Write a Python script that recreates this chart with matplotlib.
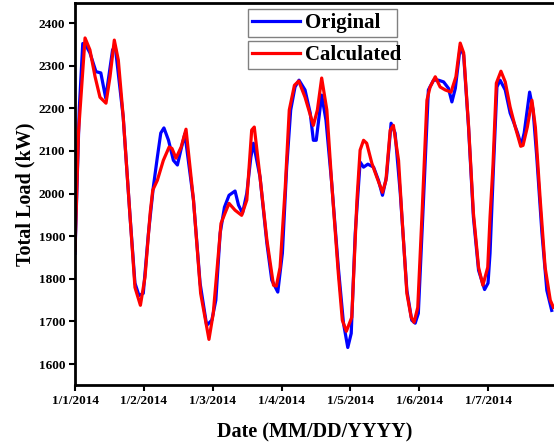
import matplotlib
matplotlib.use('Agg')
import matplotlib.pyplot as plt

# Hours since 1/1/2014 00:00 and load values (kW)
orig_hours = [0, 1.5, 2.7, 4.0, 5.2, 7.3, 9.0, 10.7, 13.1, 14.0, 16.8, 19.2, 20.9, 22.3, 23.8,
              25.6, 27.3, 28.7, 29.9, 31.0, 32.6, 34.3, 35.7, 36.9, 38.3, 41.3, 43.6, 45.9, 47.7,
              49.1, 50.6, 52.1, 53.7, 55.8, 57.0, 58.4, 59.9, 61.3, 62.2, 64.5, 66.9, 68.6, 70.7,
              72.3, 73.8, 75.2, 76.7, 78.1, 80.2, 82.0, 83.1, 84.1, 86.0, 87.5, 89.5, 91.8, 93.6,
              95.1, 96.3, 97.7, 99.4, 100.6, 102.1, 104.1, 105.8, 107.2, 108.6, 110.2, 111.6,
              113.4, 115.7, 117.4, 118.6, 119.7, 121.5, 123.2, 125.0, 126.7, 128.5, 130.2, 131.4,
              132.6, 134.3, 135.5, 137.2, 138.9, 140.7, 142.8, 144.0, 144.7, 145.9, 147.1, 148.2,
              150.0, 151.7, 152.9, 154.3, 155.6, 156.6, 158.5, 159.7, 161.0, 162.8, 164.5, 166.2]
orig_load = [1860, 2200, 2352, 2345, 2330, 2286, 2283, 2224, 2337, 2346, 2180, 1945, 1790, 1761, 1766,
             1907, 2015, 2085, 2142, 2154, 2125, 2078, 2067, 2102, 2140, 1985, 1790, 1691, 1703,
             1750, 1907, 1968, 1996, 2006, 1973, 1954, 2001, 2085, 2118, 2039, 1883, 1797, 1769,
             1860, 2062, 2196, 2250, 2266, 2243, 2189, 2125, 2125, 2231, 2172, 2024, 1827, 1696,
             1639, 1672, 1907, 2074, 2062, 2069, 2062, 2031, 1996, 2039, 2165, 2142,
             2001, 1773, 1703, 1696, 1719, 1985, 2243, 2266, 2266, 2262, 2247, 2215,
             2247, 2344, 2325, 2156, 1945, 1820, 1775, 1790, 1860, 2062, 2250, 2266,
             2243, 2189, 2168, 2142, 2113, 2142, 2238, 2196, 2085, 1907, 1773, 1726]

calc_hours = [0, 1.2, 3.5, 5.2, 7.0, 8.7, 10.8, 12.2, 13.7, 15.1, 16.8, 19.2, 20.9, 22.8, 24.4,
              26.2, 27.1, 28.7, 30.8, 32.8, 33.8, 35.2, 37.0, 38.7, 41.3, 43.8, 46.7, 48.2, 50.9,
              52.3, 53.7, 55.8, 58.1, 59.9, 61.6, 62.5, 64.5, 66.9, 69.2, 70.2, 71.5, 73.3, 74.7,
              76.5, 78.0, 80.2, 83.1, 84.5, 86.0, 87.8, 89.5, 91.8, 93.2, 94.6, 96.5, 98.3, 99.4,
              100.6, 101.7, 103.5, 105.2, 107.2, 108.4, 109.9, 111.0, 112.8, 114.0, 115.7, 117.2,
              118.2, 119.5, 121.1, 122.7, 123.8, 125.6, 127.3, 129.1, 131.1, 132.8, 134.3, 135.5,
              137.2, 138.9, 140.7, 142.2, 143.9, 144.7, 145.7, 146.9, 148.5, 150.0, 151.7, 153.5,
              155.4, 156.2, 157.7, 159.3, 160.5, 162.2, 163.9, 165.7, 166.8]
calc_load = [1867, 2142, 2365, 2337, 2274, 2226, 2212, 2274, 2360, 2313, 2180, 1945, 1780, 1738, 1804,
             1954, 2008, 2031, 2078, 2109, 2106, 2083, 2109, 2151, 1985, 1766, 1658, 1719, 1930,
             1954, 1977, 1961, 1949, 1985, 2149, 2156, 2039, 1891, 1785, 1783, 1827, 2015, 2196,
             2254, 2264, 2226, 2160, 2196, 2271, 2196, 2024, 1813, 1703, 1677, 1710, 1985, 2102,
             2125, 2118, 2071, 2039, 2003, 2031, 2149, 2160, 2078, 1945, 1766, 1710,
             1698, 1733, 1968, 2219, 2250, 2274, 2250, 2243, 2238, 2274, 2353, 2330,
             2160, 1954, 1827, 1785, 1827, 1945, 2062, 2259, 2287, 2262, 2203, 2156,
             2111, 2113, 2156, 2219, 2156, 1985, 1827, 1750, 1733]

tick_hours = [0, 24, 48, 72, 96, 120, 144]
tick_labels = ['1/1/2014', '1/2/2014', '1/3/2014', '1/4/2014', '1/5/2014', '1/6/2014', '1/7/2014']
y_ticks = [1600, 1700, 1800, 1900, 2000, 2100, 2200, 2300, 2400]

plt.rcParams['font.family'] = ['Liberation Serif', 'DejaVu Serif']
plt.rcParams['font.weight'] = 'bold'

fig = plt.figure(figsize=(5.54, 4.48), dpi=100)
ax = fig.add_axes([0.1354, 0.1406, 0.8646, 0.8527])

line_o, = ax.plot(orig_hours, orig_load, color='#0000ff', lw=2.3, label='Original')
line_c, = ax.plot(calc_hours, calc_load, color='#ff0000', lw=2.3, label='Calculated')

ax.set_xlim(0, 167)
ax.set_ylim(1551, 2447)
ax.set_xticks(tick_hours)
ax.set_xticklabels(tick_labels)
ax.set_yticks(y_ticks)
ax.tick_params(axis='both', direction='out', length=4, width=1.5, labelsize=9.5, pad=3)
for lbl in ax.get_xticklabels() + ax.get_yticklabels():
    lbl.set_fontweight('bold')

for side in ['left', 'bottom', 'top']:
    ax.spines[side].set_linewidth(2)
ax.spines['right'].set_visible(False)

ax.set_xlabel('Date (MM/DD/YYYY)', fontsize=14.5, fontweight='bold', labelpad=11)
ax.set_ylabel('Total Load (kW)', fontsize=14.5, fontweight='bold', labelpad=2)

# Two stacked boxes, one per series
leg_kw = dict(loc='upper left', mode='expand', borderaxespad=0, fancybox=False,
              framealpha=1, edgecolor='#808080', handlelength=2.3, handletextpad=0.25,
              borderpad=0.2, prop={'family': 'Liberation Serif', 'weight': 'bold', 'size': 15})
leg1 = ax.legend(handles=[line_o], bbox_to_anchor=(0.361, 0.906, 0.311, 0.078), **leg_kw)
leg1.get_frame().set_linewidth(1)
ax.add_artist(leg1)
leg2 = ax.legend(handles=[line_c], bbox_to_anchor=(0.361, 0.830, 0.311, 0.071), **leg_kw)
leg2.get_frame().set_linewidth(1)

fig.savefig('out.png', dpi=100)
